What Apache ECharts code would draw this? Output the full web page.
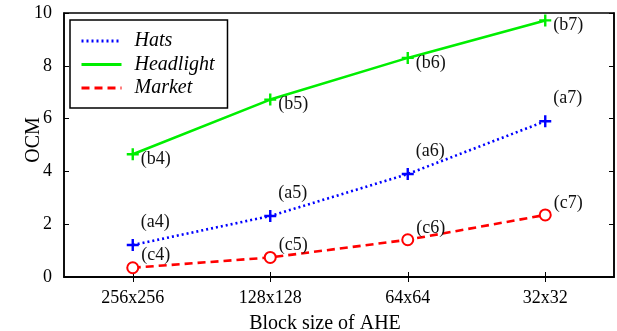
<!DOCTYPE html>
<html><head><meta charset="utf-8">
<script src="https://cdn.jsdelivr.net/npm/echarts@6/dist/echarts.min.js"></script>
<style>html,body{margin:0;padding:0;background:#fff}#c{width:617px;height:331px}</style>
</head><body><div id="c"></div>
<script>
const categories = ['256x256', '128x128', '64x64', '32x32'];
const hats = [1.21, 2.31, 3.9, 5.9];
const headlight = [4.65, 6.72, 8.3, 9.72];
const market = [0.35, 0.74, 1.41, 2.35];
const hatsLabels = ['(a4)', '(a5)', '(a6)', '(a7)'];
const headlightLabels = ['(b4)', '(b5)', '(b6)', '(b7)'];
const marketLabels = ['(c4)', '(c5)', '(c6)', '(c7)'];
const yTicks = [0, 2, 4, 6, 8, 10];

const FONT = '"Liberation Serif", "DejaVu Serif", serif';
const plus = 'path://M4,0 H6 V4 H10 V6 H6 V10 H4 V6 H0 V4 H4 Z';

function mk(name, vals, labels, color, type, symbol, symbolSize, dy) {
  return {
    name: name, type: 'line', data: vals,
    symbol: symbol, symbolSize: symbolSize,
    lineStyle: {color: color, width: 2.6, type: type},
    itemStyle: {color: symbol === 'circle' ? '#fff' : color, borderColor: color, borderWidth: symbol === 'circle' ? 2 : 0},
    label: {show: true, position: 'right', distance: 2, offset: [0, dy],
      formatter: p => labels[p.dataIndex], fontFamily: FONT, fontSize: 18, color: '#111'},
    emphasis: {disabled: true}, animation: false, z: 3
  };
}

const chart = echarts.init(document.getElementById('c'));
const axisCommon = {
  axisLine: {show: true, lineStyle: {color: '#000', width: 1.5}},
  axisTick: {show: true, inside: true, length: 5, lineStyle: {color: '#000', width: 1}},
  splitLine: {show: false}
};
chart.setOption({
  animation: false,
  grid: {left: 64, right: 3, top: 13, bottom: 54, show: true, borderColor: '#000', borderWidth: 1.5,
    containLabel: false, outerBoundsMode: 'none'},
  legend: {
    left: 70, top: 20, orient: 'vertical',
    padding: [11, 13, 10, 10], itemGap: 3.5, itemWidth: 40, itemHeight: 14,
    borderColor: '#000', borderWidth: 1.5, backgroundColor: '#fff', borderRadius: 0,
    itemStyle: {opacity: 0},
    lineStyle: {width: 3},
    textStyle: {fontFamily: FONT, fontSize: 20, fontStyle: 'italic', color: '#000', padding: [0, 0, 0, 8]},
    data: ['Hats', 'Headlight', 'Market']
  },
  xAxis: [
    Object.assign({type: 'category', data: categories, boundaryGap: true, position: 'bottom',
      name: 'Block size of AHE', nameLocation: 'middle', nameGap: 37, nameMoveOverlap: false,
      nameTextStyle: {fontFamily: FONT, fontSize: 20, color: '#000', padding: [0, 28, 0, 0]},
      axisLabel: {fontFamily: FONT, fontSize: 18, color: '#000', margin: 12}}, axisCommon,
      {axisTick: Object.assign({}, axisCommon.axisTick, {alignWithLabel: true})}),
    Object.assign({type: 'category', data: categories, boundaryGap: true, position: 'top',
      axisLabel: {show: false}}, axisCommon,
      {axisTick: Object.assign({}, axisCommon.axisTick, {alignWithLabel: true})})
  ],
  yAxis: [
    Object.assign({type: 'value', min: yTicks[0], max: yTicks[yTicks.length - 1], interval: 2, position: 'left',
      name: 'OCM', nameLocation: 'middle', nameGap: 20, nameRotate: 90, nameMoveOverlap: false,
      nameTextStyle: {fontFamily: FONT, fontSize: 20, color: '#000', padding: [0, 0, 0, 10]},
      axisLabel: {fontFamily: FONT, fontSize: 18, color: '#000', margin: 12}}, axisCommon),
    Object.assign({type: 'value', min: yTicks[0], max: yTicks[yTicks.length - 1], interval: 2, position: 'right',
      axisLabel: {show: false}}, axisCommon)
  ],
  series: [
    mk('Hats', hats, hatsLabels, '#0000ff', [2, 3], plus, 12, -23),
    mk('Headlight', headlight, headlightLabels, '#00ee00', 'solid', plus, 12, 5),
    mk('Market', market, marketLabels, '#ff0000', [8, 5], 'circle', 11, -12)
  ]
});
</script></body></html>
